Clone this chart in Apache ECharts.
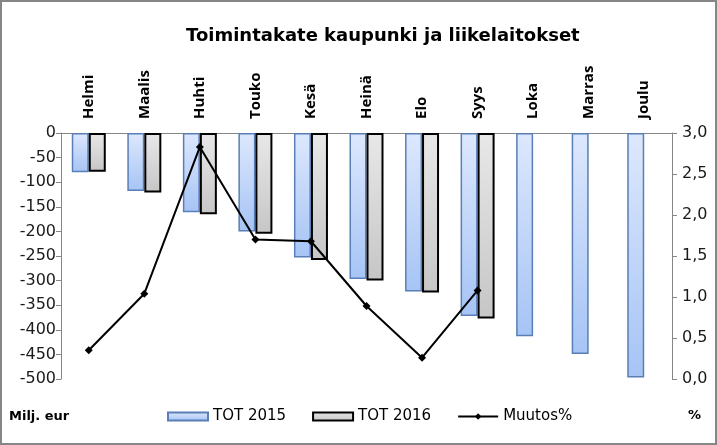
<!DOCTYPE html>
<html>
<head>
<meta charset="utf-8">
<script src="https://cdn.jsdelivr.net/npm/echarts@6/dist/echarts.min.js"></script>
<style>
html,body{margin:0;padding:0;background:#fff;}
#chart{width:717px;height:445px;}
</style>
</head>
<body>
<div id="chart"></div>
<script>
var months = ['Helmi','Maalis','Huhti','Touko','Kesä','Heinä','Elo','Syys','Loka','Marras','Joulu'];
var tot2015 = [-80,-118,-161,-200,-253,-297,-322,-372,-413,-449,-497];
var tot2016 = [-79,-121,-165,-205,-258,-300,-324,-377,null,null,null];
var muutos = [0.35,1.04,2.83,1.70,1.68,0.89,0.26,1.08,null,null,null];

var chart = echarts.init(document.getElementById('chart'));
var axisColor = '#868686';
var option = {
  animation: false,
  backgroundColor: '#fff',
  title: {
    text: 'Toimintakate kaupunki ja liikelaitokset',
    left: 181,
    top: 22,
    textStyle: {fontFamily: 'DejaVu Sans', fontWeight: 'bold', fontSize: 18, color: '#000'}
  },
  legend: {
    left: 162,
    top: 404,
    itemWidth: 40,
    itemHeight: 8,
    itemGap: 26,
    textStyle: {fontFamily: 'DejaVu Sans', fontSize: 15, color: '#000'},
    data: [{name: 'TOT 2015', icon: 'rect'}, {name: 'TOT 2016', icon: 'rect'}, {name: 'Muutos%'}]
  },
  grid: {left: 61, right: 45, top: 133, bottom: 66},
  xAxis: {
    type: 'category',
    position: 'top',
    data: months,
    axisLine: {lineStyle: {color: axisColor, width: 1}},
    axisTick: {inside: true, length: 5, lineStyle: {color: axisColor}},
    axisLabel: {rotate: 90, margin: 14, fontFamily: 'Open Sans', fontWeight: 'bold', fontSize: 15, color: '#000'}
  },
  yAxis: [{
    type: 'value',
    min: -500, max: 0, interval: 50,
    axisLine: {show: true, lineStyle: {color: axisColor}},
    axisTick: {show: true, length: 5, lineStyle: {color: axisColor}},
    splitLine: {show: false},
    axisLabel: {margin: 5, fontFamily: 'DejaVu Sans', fontSize: 16, color: '#1a1a1a'}
  },{
    type: 'value',
    min: 0, max: 3, interval: 0.5,
    position: 'right',
    axisLine: {show: true, lineStyle: {color: axisColor}},
    axisTick: {show: true, length: 5, lineStyle: {color: axisColor}},
    splitLine: {show: false},
    axisLabel: {margin: 10, fontFamily: 'DejaVu Sans', fontSize: 16, color: '#1a1a1a',
      formatter: function(v){ return v.toFixed(1).replace('.', ','); }}
  }],
  series: [{
    name: 'TOT 2015',
    type: 'bar',
    data: tot2015,
    barWidth: 17,
    barGap: '0%',
    itemStyle: {
      color: new echarts.graphic.LinearGradient(0,0,0,1,[{offset:0,color:'#dde8fd'},{offset:1,color:'#a6c4f5'}]),
      borderColor: '#5a7fb6',
      borderWidth: 1.5
    }
  },{
    name: 'TOT 2016',
    type: 'bar',
    data: tot2016,
    barWidth: 17,
    itemStyle: {
      color: new echarts.graphic.LinearGradient(0,0,0,1,[{offset:0,color:'#e8e8e8'},{offset:1,color:'#c6c6c6'}]),
      borderColor: '#000',
      borderWidth: 2
    }
  },{
    name: 'Muutos%',
    type: 'line',
    yAxisIndex: 1,
    data: muutos,
    z: 5,
    symbol: 'diamond',
    symbolSize: 8,
    lineStyle: {color: '#000', width: 2},
    itemStyle: {color: '#000'}
  }],
  graphic: [{
    type: 'rect',
    shape: {x: 1, y: 1, width: 715, height: 443},
    style: {fill: 'none', stroke: '#868686', lineWidth: 2},
    silent: true
  },{
    type: 'text',
    left: 9, top: 410,
    style: {text: 'Milj. eur', font: 'bold 13px "DejaVu Sans"', fill: '#000'}
  },{
    type: 'text',
    left: 688, top: 409,
    style: {text: '%', font: 'bold 13px "DejaVu Sans"', fill: '#000'}
  }]
};
chart.setOption(option);
</script>
</body>
</html>
